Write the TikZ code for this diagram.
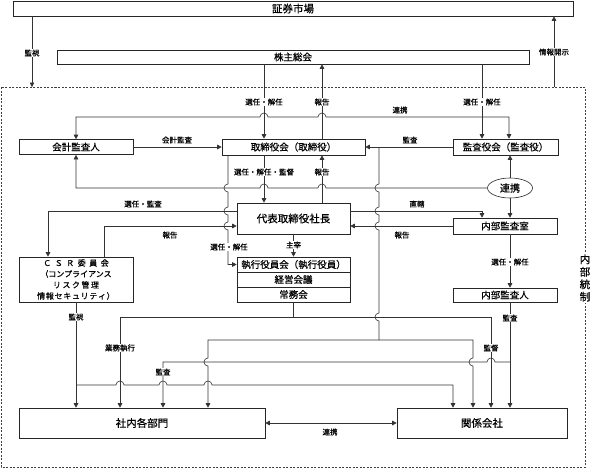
\documentclass[tikz,border=0pt]{standalone}
\usepackage{fontspec}
\setmainfont{Noto Sans CJK JP}[FakeBold=0.6]
\usetikzlibrary{arrows.meta,shapes.geometric,calc}
\newcommand\hopR[2]{-- (#1-4,#2) arc[start angle=180,end angle=0,radius=4pt]}
\newcommand\hopL[2]{-- (#1+4,#2) arc[start angle=0,end angle=180,radius=4pt]}
\newcommand\hopD[2]{-- (#1,#2-4) arc[start angle=90,end angle=270,radius=4pt]}
\begin{document}
\begin{tikzpicture}[x=1pt,y=-1pt,
  box/.style={draw=black!85,line width=0.6pt,inner sep=0pt,fill=white,font=\fontsize{9.5}{11}\selectfont},
  bigbox/.style={box,font=\fontsize{10.5}{12}\selectfont},
  lbl/.style={font=\fontsize{7.5}{8}\selectfont,inner sep=0.6pt},
  lblw/.style={lbl,fill=white},
  con/.style={draw=black!80,line width=0.6pt},
  arr/.style={con,-{Triangle[length=4.5pt,width=4.5pt]}},
  darr/.style={con,{Triangle[length=4.5pt,width=4.5pt]}-{Triangle[length=4.5pt,width=4.5pt]}},
]
\useasboundingbox (0,0) rectangle (592,469);
% frame
\draw[black!75,line width=0.6pt,dash pattern=on 2pt off 1.5pt] (1,87) rectangle (585,467);
% named x positions
\foreach \xx in {32,48,104,120,163,208,228,264,322,379,453,473,482,491,509,510,554}
  \coordinate (X\xx) at (\xx,0);
\coordinate (F32) at (32,87);
\coordinate (F554) at (554,87);
% boxes
\node[bigbox,minimum width=560pt,minimum height=15pt] (mkt) at (293,8.5) {証券市場};
\node[box,minimum width=472pt,minimum height=14pt] (ags) at (293,57) {株主総会};
\node[box,minimum width=114pt,minimum height=15pt] (aud) at (76,147) {会計監査人};
\node[box,minimum width=143pt,minimum height=16pt] (brd) at (293.5,147) {取締役会（取締役）};
\node[box,minimum width=105pt,minimum height=16pt] (kan) at (505.5,147) {監査役会（監査役）};
\node[bigbox,minimum width=113pt,minimum height=31pt] (pres) at (293.5,218.5) {代表取締役社長};
\node[box,minimum width=104pt,minimum height=16pt] (ia) at (505,226) {内部監査室};
\node[box,minimum width=104pt,minimum height=14pt] (iap) at (505,295) {内部監査人};
\node[box,minimum width=114pt,minimum height=45pt,align=center,font=\fontsize{8}{11}\selectfont] (csr) at (76,279.5)
  {Ｃ\kern3.5ptＳ\kern3.5ptＲ\kern3.5pt委\kern3.5pt員\kern3.5pt会\\（コンプライアンス\\リ\kern1.5ptス\kern1.5ptク\kern1.5pt管\kern1.5pt理\\情\kern0.7pt報\kern0.7ptセ\kern0.7ptキ\kern0.7ptュ\kern0.7ptリ\kern0.7ptテ\kern0.7ptィ\kern0.7pt）};
\node[box,minimum width=113pt,minimum height=15pt] (exe1) at (293.5,264.5) {執行役員会（執行役員）};
\node[box,minimum width=113pt,minimum height=15pt] (exe2) at (293.5,279.5) {経営会議};
\node[box,minimum width=113pt,minimum height=15pt] (exe3) at (293.5,294.5) {常務会};
\node[bigbox,minimum width=246pt,minimum height=30pt] (dept) at (142,423) {社内各部門};
\node[bigbox,minimum width=170pt,minimum height=30pt] (aff) at (482,423) {関係会社};
\node[draw=black!85,line width=0.6pt,ellipse,inner sep=0pt,minimum width=45pt,minimum height=20pt,fill=white,font=\fontsize{10}{12}\selectfont] (ell) at (510,188) {連携};
% top connectors
\draw[arr] (mkt.south -| F32) -- (F32);
\draw[arr] (F554) -- (mkt.south -| F554);
\draw[arr] (ags.south -| X264) -- (brd.north -| X264);
\draw[arr] (brd.north -| X322) -- (ags.south -| X322);
\draw[arr] (ags.south -| X482) -- (kan.north -| X482);
\draw[darr] (aud.north) -- (76,117) \hopR{264}{117} \hopR{322}{117} -- (509,117) -- (kan.north -| X509);
\draw[arr] (aud.east) -- (brd.west);
\draw[arr] (kan.west) -- (brd.east);
% audit branch
\draw[con] (brd.east -| X379) \hopD{379}{188} \hopD{379}{211} \hopD{379}{226} \hopD{379}{317} -- (379,340);
\draw[arr] (379,340) -- (208,340) \hopD{208}{362} -- (dept.north -| X208);
\draw[arr] (379,340) -- (473,340) \hopD{473}{362} -- (aff.north -| X473);
% ellipse
\draw[arr] (ell.north) -- (kan.south -| ell.north);
\draw[arr] (ell.south) -- (ia.north -| ell.south);
\draw[arr] (ell.west) \hopL{322}{188} \hopL{264}{188} -- (76,188) -- (aud.south);
% board - president
\draw[arr] (brd.south -| X264) -- (pres.north -| X264);
\draw[arr] (pres.north -| X322) -- (brd.south -| X322);
\draw[arr] (brd.south -| X228) \hopD{228}{188} \hopD{228}{211} \hopD{228}{226} -- (228,264.5) -- (exe1.west);
% president - CSR
\draw[arr] ([yshift=7.5pt]pres.west) -- (48,211) -- (csr.north -| X48);
\draw[arr] (csr.north -| X104) -- (104,226) -- ([yshift=-7.5pt]pres.west);
% president - internal audit
\draw[arr] ([yshift=7.5pt]pres.east) -- (482,211) -- (ia.north -| X482);
\draw[arr] (ia.west) -- (ia.west -| pres.east);
\draw[arr] (pres.south) -- (exe1.north);
\draw[arr] (ia.south -| X510) -- (iap.north -| X510);
% execution
\draw[con] (exe3.south) -- (293.5,317);
\draw[arr] (293.5,317) -- (120,317) -- (dept.north -| X120);
\draw[arr] (293.5,317) -- (491,317) -- (aff.north -| X491);
% CSR monitoring
\draw[arr] (csr.south) -- (dept.north -| csr.south);
\draw[arr] (76,385) \hopR{120}{385} \hopR{163}{385} \hopR{208}{385} -- (453,385) -- (aff.north -| X453);
% internal auditor
\draw[arr] (iap.south -| X510) -- (aff.north -| X510);
\draw[arr] (510,362) \hopL{491}{362} -- (163,362) -- (dept.north -| X163);
% bottom
\draw[darr] (dept.east) -- (aff.west);
% labels
\node[lblw] (l1) at (32,53) {監視};
\node[lblw] (l2) at (554,52) {情報開示};
\node[lblw] (l3) at (264,102) {選任・解任};
\node[lblw] (l4) at (322,102) {報告};
\node[lblw] (l5) at (482,102) {選任・解任};
\node[lbl] (l6) at (400,110) {連携};
\node[lbl] (l7) at (177,140) {会計監査};
\node[lbl] (l8) at (410,140) {監査};
\node[lblw] (l9) at (264,172) {選任・解任・監督};
\node[lblw] (l10) at (322,172) {報告};
\node[lbl] (l11) at (143,204) {選任・監査};
\node[lbl] (l12) at (170,235) {報告};
\node[lbl] (l13) at (417,204) {直轄};
\node[lbl] (l14) at (402,235) {報告};
\node[lblw] (l15) at (229,247) {選任・解任};
\node[lblw] (l16) at (293.5,245) {主宰};
\node[lblw] (l17) at (510,262) {選任・解任};
\node[lblw] (l18) at (76,317) {監視};
\node[lblw] (l19) at (510,318) {監査};
\node[lblw] (l20) at (120,348) {業務執行};
\node[lblw] (l21) at (491,348) {監督};
\node[lblw] (l22) at (163,372) {監査};
\node[lbl] (l23) at (330,432) {連携};
\node[fill=white,inner sep=1pt,align=center,font=\fontsize{10.5}{12.5}\selectfont] (ic) at (585,278) {内\\部\\統\\制};
\end{tikzpicture}
\end{document}
